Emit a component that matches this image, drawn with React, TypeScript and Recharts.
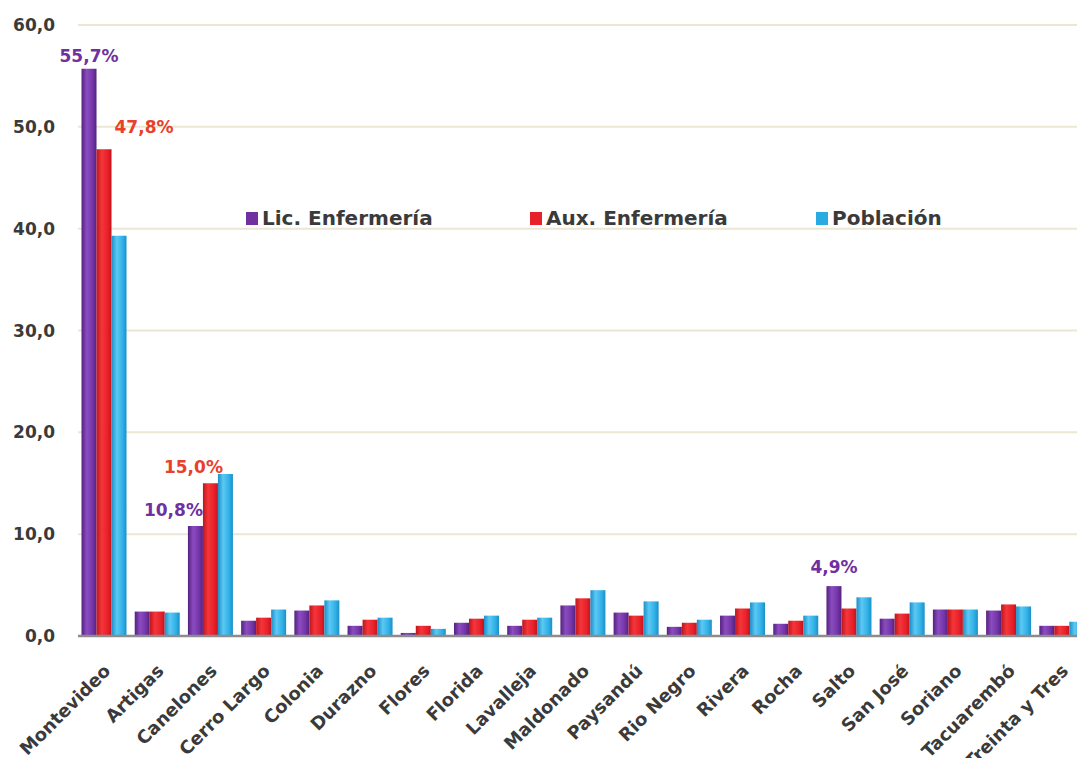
import React from "react";
import { BarChart, Bar, XAxis, YAxis, CartesianGrid, LabelList, Legend } from "recharts";

const categories = [
  "Montevideo", "Artigas", "Canelones", "Cerro Largo", "Colonia", "Durazno", "Flores",
  "Florida", "Lavalleja", "Maldonado", "Paysandú", "Rio Negro", "Rivera", "Rocha",
  "Salto", "San José", "Soriano", "Tacuarembó", "Treinta y Tres",
];
const licEnfermeria = [55.7, 2.4, 10.8, 1.5, 2.5, 1.0, 0.3, 1.3, 1.0, 3.0, 2.3, 0.9, 2.0, 1.2, 4.9, 1.7, 2.6, 2.5, 1.0];
const auxEnfermeria = [47.8, 2.4, 15.0, 1.8, 3.0, 1.6, 1.0, 1.7, 1.6, 3.7, 2.0, 1.3, 2.7, 1.5, 2.7, 2.2, 2.6, 3.1, 1.0];
const poblacion = [39.3, 2.3, 15.9, 2.6, 3.5, 1.8, 0.7, 2.0, 1.8, 4.5, 3.4, 1.6, 3.3, 2.0, 3.8, 3.3, 2.6, 2.9, 1.4];
const yTicks = [0, 10, 20, 30, 40, 50, 60];
const seriesNames = ["Lic. Enfermería", "Aux. Enfermería", "Población"];

// indices of bars that carry a value label
const licLabelled = [0, 2, 14];
const auxLabelled = [0, 2];

// label placement styling (offsets from bar top centre)
const licLabelStyle: Record<number, { dx: number; dy: number }> = {
  0: { dx: 0, dy: -7 },
  2: { dx: -22, dy: -10 },
  14: { dx: 0, dy: -13 },
};
const auxLabelStyle: Record<number, { dx: number; dy: number }> = {
  0: { dx: 40, dy: -16 },
  2: { dx: -17, dy: -10 },
};

const data = categories.map((c, i) => ({
  name: c,
  lic: licEnfermeria[i],
  aux: auxEnfermeria[i],
  pob: poblacion[i],
}));

const PURPLE = "#7030a0";
const RED = "#e8202a";
const BLUE = "#29abe2";
const LABEL_RED = "#e8402a";
const TEXT = "#3a3a3a";
const FONT = "'DejaVu Sans', sans-serif";

const fmt = (v: number) => v.toFixed(1).replace(".", ",");

const makeLabel = (labelled: number[], style: Record<number, { dx: number; dy: number }>, color: string) =>
  (props: any) => {
    const { x, y, width, value, index } = props;
    if (!labelled.includes(index)) return null;
    const s = style[index];
    return (
      <text
        x={Number(x) + Number(width) / 2 + s.dx}
        y={Number(y) + s.dy}
        textAnchor="middle"
        fill={color}
        fontFamily={FONT}
        fontWeight="bold"
        fontSize={17}
      >
        {fmt(Number(value)) + "%"}
      </text>
    );
  };

const XTick = (props: any) => {
  const { x, y, payload } = props;
  return (
    <g transform={`translate(${x + 7},${y + 28})`}>
      <text
        x={0}
        y={0}
        textAnchor="end"
        transform="rotate(-45)"
        fill={TEXT}
        fontFamily={FONT}
        fontWeight="bold"
        fontSize={18}
      >
        {payload.value}
      </text>
    </g>
  );
};

const legendItems = [
  { name: seriesNames[0], color: PURPLE, left: 246 },
  { name: seriesNames[1], color: RED, left: 530 },
  { name: seriesNames[2], color: BLUE, left: 816 },
];

const LegendContent = () => (
  <div style={{ position: "relative", width: 1077, height: 30 }}>
    {legendItems.map((it) => (
      <div
        key={it.name}
        style={{
          position: "absolute",
          left: it.left,
          top: 0,
          display: "flex",
          alignItems: "center",
          fontFamily: FONT,
          fontWeight: "bold",
          fontSize: 20,
          color: TEXT,
          whiteSpace: "nowrap",
        }}
      >
        <span style={{ display: "inline-block", width: 12, height: 13, background: it.color, marginRight: 4 }} />
        <span>{it.name}</span>
      </div>
    ))}
  </div>
);

const Grad = ({ id, dark, light, mid }: { id: string; dark: string; light: string; mid: string }) => (
  <linearGradient id={id} x1="0" y1="0" x2="1" y2="0">
    <stop offset="0%" stopColor={dark} />
    <stop offset="35%" stopColor={light} />
    <stop offset="75%" stopColor={mid} />
    <stop offset="100%" stopColor={dark} />
  </linearGradient>
);

export default function App() {
  return (
    <div style={{ position: "absolute", left: 0, top: 0, width: 1077, height: 758, overflow: "hidden", background: "#fff" }}>
      <BarChart
        width={1100}
        height={758}
        data={data}
        margin={{ top: 25, right: 11, bottom: 0, left: 0 }}
        barCategoryGap="6.6%"
        barGap={0}
      >
        <defs>
          <Grad id="gPurple" dark="#55207f" light="#8a4cc0" mid="#7335a6" />
          <Grad id="gRed" dark="#c0141c" light="#f4363a" mid="#e8202a" />
          <Grad id="gBlue" dark="#1a8fc8" light="#5cc8f4" mid="#2fb0e6" />
        </defs>
        <CartesianGrid vertical={false} stroke="#ece6d4" strokeWidth={2} />
        <XAxis
          dataKey="name"
          interval={0}
          height={122}
          tickLine={false}
          axisLine={{ stroke: "#8c8c8c", strokeWidth: 2.5 }}
          tick={<XTick />}
        />
        <YAxis
          width={78}
          domain={[0, 60]}
          ticks={yTicks}
          tickFormatter={fmt}
          axisLine={false}
          tickLine={false}
          tickMargin={17}
          tick={{ fill: TEXT, fontFamily: FONT, fontWeight: "bold", fontSize: 17 }}
        />
        <Legend
          layout="horizontal"
          verticalAlign="middle"
          align="center"
          content={<LegendContent />}
          wrapperStyle={{ position: "absolute", top: 206, left: 0, width: 1077 }}
        />
        <Bar dataKey="lic" name={seriesNames[0]} fill="url(#gPurple)" isAnimationActive={false}>
          <LabelList dataKey="lic" content={makeLabel(licLabelled, licLabelStyle, PURPLE)} />
        </Bar>
        <Bar dataKey="aux" name={seriesNames[1]} fill="url(#gRed)" isAnimationActive={false}>
          <LabelList dataKey="aux" content={makeLabel(auxLabelled, auxLabelStyle, LABEL_RED)} />
        </Bar>
        <Bar dataKey="pob" name={seriesNames[2]} fill="url(#gBlue)" isAnimationActive={false} />
      </BarChart>
    </div>
  );
}
